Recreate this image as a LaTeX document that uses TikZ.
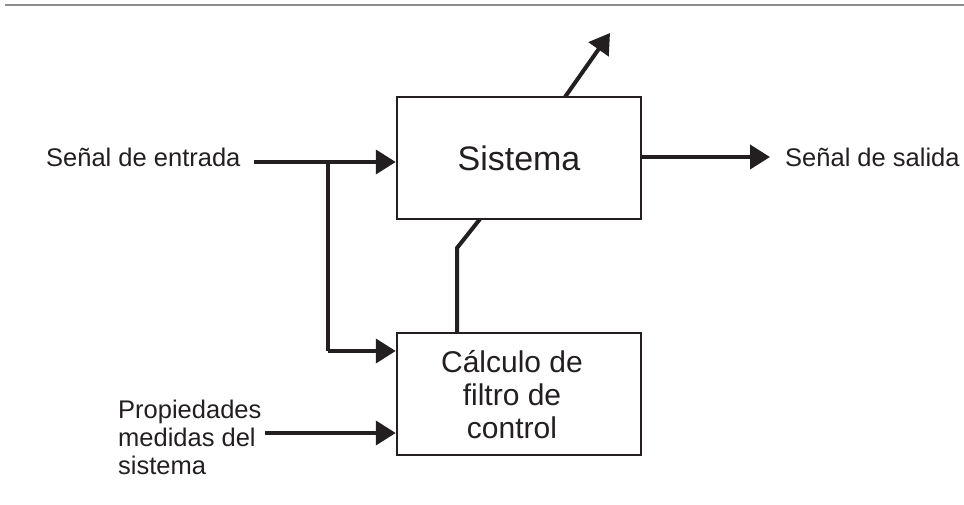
\documentclass[tikz,border=0pt]{standalone}
\usepackage{fontspec}
\setmainfont{Liberation Sans}
\usetikzlibrary{arrows.meta}
\definecolor{ink}{HTML}{231F20}
\tikzset{
  block/.style={draw=ink, line width=2.5pt, fill=white, minimum width=244pt, inner sep=0pt},
  conn/.style={draw=ink, line width=4pt},
  arr/.style={conn, -{Triangle[length=20pt,width=24pt]}},
  lbl/.style={inner sep=0pt, text=ink, font=\fontsize{25.5}{28}\selectfont}
}
\begin{document}
\begin{tikzpicture}[x=1pt,y=-1pt]
\useasboundingbox (0,0) rectangle (964,505);
\draw[gray!90, line width=1.6pt] (5,5) -- (964,5);

\node[block, minimum height=122pt, font=\fontsize{34}{36}\selectfont, text=ink] (sis) at (519,158) {Sistema};
\node[block, minimum height=122pt] (ctl) at (519,394) {};
\node[inner sep=0pt, align=center, font=\fontsize{30}{33}\selectfont, text=ink] (ctltxt) at (512,395) {Cálculo de\\filtro de\\control};

\node[lbl, anchor=base west] (ent) at (46,167) {Señal de entrada};
\node[lbl, anchor=base west] (sal) at (785,167) {Señal de salida};
\node[lbl, anchor=north west, align=left] (prop) at (118,400) {Propiedades\\medidas del\\sistema};

\coordinate (e0) at (254,162);
\coordinate (br) at (328,162);
\coordinate (br2) at (328,351);
\coordinate (p0) at (265,433);
\coordinate (s0) at (sis.east |- 0,157);
\coordinate (s1) at (770,157);
\coordinate (t0) at (565,97);
\coordinate (t1) at (610,33);
\coordinate (k0) at (480,219);
\coordinate (k1) at (457,248);

\draw[arr] (e0) -- (sis.west |- e0);
\draw[conn] (br) -- (br2);
\draw[arr] (br2) -- (ctl.west |- br2);
\draw[arr] (p0) -- (ctl.west |- p0);
\draw[arr] (s0) -- (s1);
\draw[arr] (t0) -- (t1);
\draw[conn, line join=miter] (k0) -- (k1) -- (k1 |- ctl.north);
\end{tikzpicture}
\end{document}
